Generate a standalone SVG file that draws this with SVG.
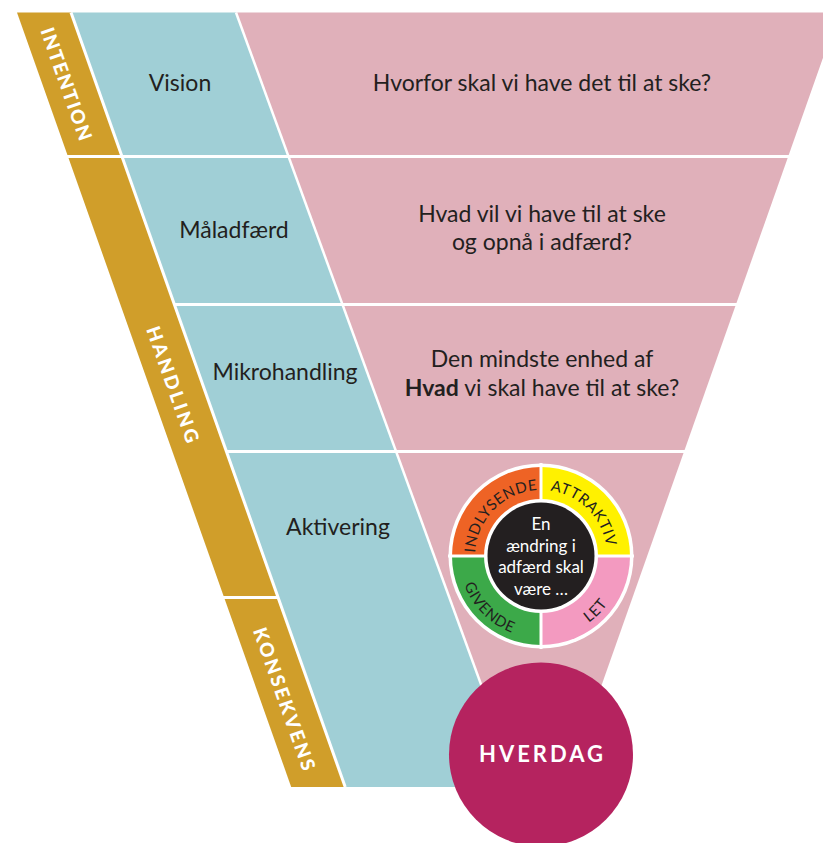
<svg xmlns="http://www.w3.org/2000/svg" width="823" height="843" viewBox="0 0 823 843">
<style>
.gold{fill:#d09e2a}
.blue{fill:#a0cfd6}
.pink{fill:#e0b0ba}
.sep{stroke:#ffffff;fill:none}
.t{font-family:Lato,"Open Sans","DejaVu Sans",sans-serif;fill:#231f20;font-size:23px;text-anchor:middle}
.band{font-family:Lato,"DejaVu Sans",sans-serif;fill:#ffffff;font-size:19px;font-weight:900;text-anchor:middle}
.ring{font-family:Lato,"DejaVu Sans",sans-serif;fill:#231f20;font-size:15px;text-anchor:middle;letter-spacing:0.6px}
.inner{font-family:Lato,"DejaVu Sans",sans-serif;fill:#ffffff;font-size:17px;text-anchor:middle}
</style>
<defs>
<path id="arcTL" d="M475,556 A66,66 0 0 1 541,490"/>
<path id="arcTR" d="M541,490 A66,66 0 0 1 607,556"/>
<path id="arcBL" d="M459,556 A82,82 0 0 0 541,638"/>
<path id="arcBR" d="M541,638 A82,82 0 0 0 623,556"/>
</defs>
<rect width="823" height="843" fill="#ffffff"/>

<g id="funnel">
<polygon class="pink" points="236,12.5 839,12.5 554,820 530.7,820"/>
<polygon class="blue" points="71,12.5 236,12.5 518.7,787 345.2,787"/>
<polygon class="gold" points="17,12.5 71,12.5 345.2,787 291.2,787"/>
</g>

<g id="separators">
<line class="sep" stroke-width="3" x1="71" y1="12.5" x2="345.2" y2="787"/>
<line class="sep" stroke-width="2.5" x1="236" y1="12.5" x2="525" y2="805"/>
<line class="sep" stroke-width="2.8" x1="0" y1="156.5" x2="823" y2="156.5"/>
<line class="sep" stroke-width="2.8" x1="174" y1="304.5" x2="823" y2="304.5"/>
<line class="sep" stroke-width="2.8" x1="226" y1="451.5" x2="823" y2="451.5"/>
<line class="sep" stroke-width="2.8" x1="200" y1="597.5" x2="277" y2="597.5"/>
</g>

<g id="intention">
<text class="band" transform="translate(66,84) rotate(70.5)" x="0" y="6.5" textLength="118" lengthAdjust="spacing">INTENTION</text>
</g>
<g id="handling">
<text class="band" transform="translate(172.5,384.5) rotate(70.5)" x="0" y="6.5" textLength="122" lengthAdjust="spacing">HANDLING</text>
</g>
<g id="konsekvens">
<text class="band" transform="translate(284,699) rotate(70.5)" x="0" y="6.5" textLength="150" lengthAdjust="spacing">KONSEKVENS</text>
</g>

<g id="vision">
<text class="t" x="180" y="91">Vision</text>
<text class="t" x="542" y="91">Hvorfor skal vi have det til at ske?</text>
</g>
<g id="maaladfaerd">
<text class="t" x="234" y="238">Måladfærd</text>
<text class="t" x="542" y="222">Hvad vil vi have til at ske</text>
<text class="t" x="542" y="250">og opnå i adfærd?</text>
</g>
<g id="mikrohandling">
<text class="t" x="285" y="380">Mikrohandling</text>
<text class="t" x="542" y="367">Den mindste enhed af</text>
<text class="t" x="542" y="396"><tspan font-weight="bold">Hvad</tspan> vi skal have til at ske?</text>
</g>
<g id="aktivering">
<text class="t" x="338" y="535">Aktivering</text>
</g>

<g id="wheel">
<circle cx="541" cy="556" r="92.5" fill="#ffffff"/>
<path d="M541,556 L452,556 A89,89 0 0 1 541,467 Z" fill="#ee6325"/>
<path d="M541,556 L541,467 A89,89 0 0 1 630,556 Z" fill="#fff100"/>
<path d="M541,556 L630,556 A89,89 0 0 1 541,645 Z" fill="#f39ac0"/>
<path d="M541,556 L541,645 A89,89 0 0 1 452,556 Z" fill="#3ca949"/>
<line class="sep" stroke-width="3" x1="541" y1="463" x2="541" y2="649"/>
<line class="sep" stroke-width="3" x1="448" y1="556" x2="634" y2="556"/>
<circle cx="541" cy="556" r="57" fill="#ffffff"/>
<circle cx="541" cy="556" r="53.5" fill="#231f20"/>
<text class="ring"><textPath href="#arcTL" startOffset="50%">INDLYSENDE</textPath></text>
<text class="ring"><textPath href="#arcTR" startOffset="50%">ATTRAKTIV</textPath></text>
<text class="ring"><textPath href="#arcBL" startOffset="50%">GIVENDE</textPath></text>
<text class="ring"><textPath href="#arcBR" startOffset="50%">LET</textPath></text>
<text class="inner" x="541" y="530">En</text>
<text class="inner" x="541" y="551.5">ændring i</text>
<text class="inner" x="541" y="573">adfærd skal</text>
<text class="inner" x="541" y="594.5">være …</text>
</g>

<g id="hverdag">
<circle cx="541" cy="754.5" r="92" fill="#b5235f"/>
<text x="541" y="762" font-family="Lato,'DejaVu Sans',sans-serif" font-size="22" font-weight="bold" fill="#ffffff" text-anchor="middle" textLength="124" lengthAdjust="spacing">HVERDAG</text>
</g>
</svg>
